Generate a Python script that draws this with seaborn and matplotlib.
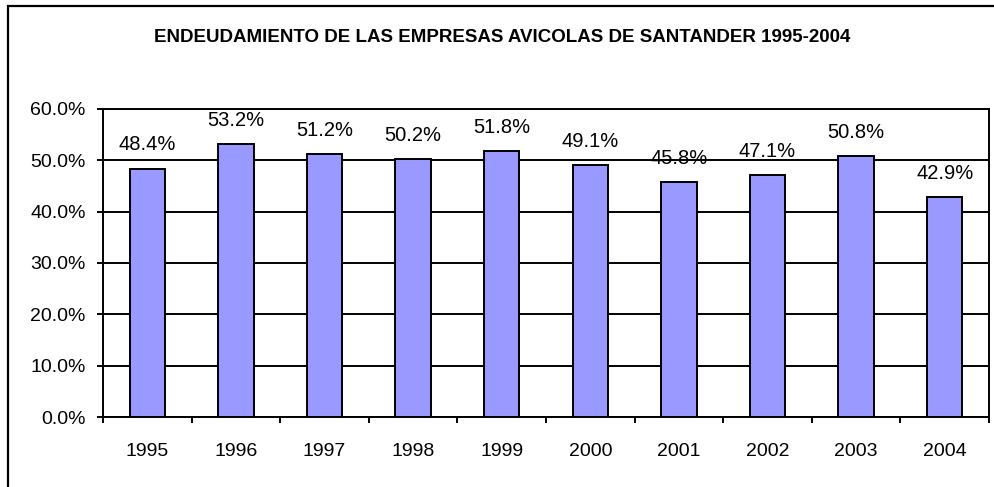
import matplotlib
matplotlib.use("Agg")
import matplotlib.pyplot as plt
from matplotlib.patches import Rectangle
from matplotlib.ticker import FuncFormatter, MultipleLocator
import pandas as pd
import seaborn as sns

# Data
years = ["1995", "1996", "1997", "1998", "1999", "2000", "2001", "2002", "2003", "2004"]
debt_ratio = [48.4, 53.2, 51.2, 50.2, 51.8, 49.1, 45.8, 47.1, 50.8, 42.9]
title = "ENDEUDAMIENTO DE LAS EMPRESAS AVICOLAS DE SANTANDER 1995-2004"

sns.set_theme(style="white")
plt.rcParams["font.family"] = ["Liberation Sans", "DejaVu Sans"]

df = pd.DataFrame({"year": years, "ratio": debt_ratio})

W, H = 994, 487
fig = plt.figure(figsize=(W / 100, H / 100), dpi=100)
ax = fig.add_axes([103 / W, 1 - 417 / H, (989 - 103) / W, (417 - 109) / H])

sns.barplot(data=df, x="year", y="ratio", color="#9999FF", edgecolor="black",
            linewidth=1.4, width=0.4, saturation=1, ax=ax)

ax.set_ylim(0, 60)
ax.set_xlim(-0.5, len(years) - 0.5)
ax.yaxis.set_major_locator(MultipleLocator(10))
ax.yaxis.set_major_formatter(FuncFormatter(lambda v, p: f"{v:.1f}%"))
ax.grid(axis="y", color="black", linewidth=1.4)
ax.set_axisbelow(True)
ax.set_xlabel("")
ax.set_ylabel("")

for s in ax.spines.values():
    s.set_color("black")
    s.set_linewidth(1.4)

# category boundary ticks on x, outward ticks on y
ax.set_xticks([i + 0.5 for i in range(-1, len(years))], minor=True)
ax.tick_params(axis="x", which="major", length=0, labelsize=14, pad=19, colors="black")
ax.tick_params(axis="x", which="minor", length=4.5, width=1.4, direction="out", colors="black")
ax.tick_params(axis="y", which="major", length=4.5, width=1.4, direction="out",
               labelsize=14, pad=8, colors="black")
ax.xaxis.set_ticks_position("bottom")
ax.yaxis.set_ticks_position("left")

for i, v in enumerate(debt_ratio):
    ax.annotate(f"{v:.1f}%", (i, v), xytext=(0, 17), textcoords="offset points",
                ha="center", va="center", fontsize=14.5, color="black",
                annotation_clip=False)

fig.text(502 / W, 1 - 37 / H, title, ha="center", va="center",
         fontsize=13.5, fontweight="bold", color="black")

# outer chart frame (runs off the right and bottom of the image)
fig.patches.append(Rectangle((8 / W, -0.1), 1.2, 1 - 6 / H + 0.1,
                             transform=fig.transFigure, fill=False,
                             edgecolor="black", linewidth=1.6))

fig.savefig("out.png", dpi=100)
